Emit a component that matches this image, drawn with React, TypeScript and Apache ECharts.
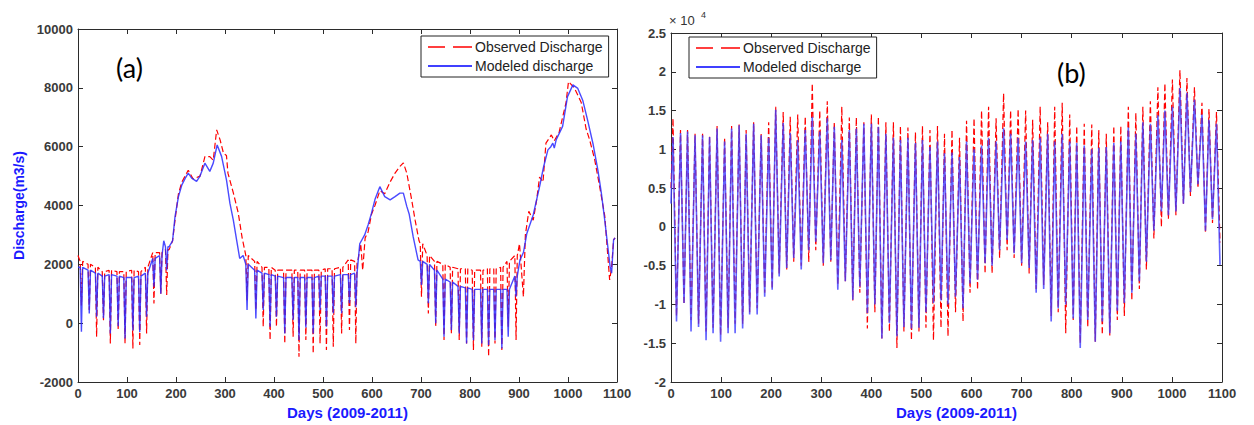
import React, { useEffect, useRef } from "react";
import * as echarts from "echarts";

// ---------- Panel (a) ----------
// low-flow cycles: day of each dip, plateau value before/after, dip value
const aDipDays = [7, 23, 38, 52, 66, 82, 96, 112, 126, 140, 155, 169, 181,
  345, 363, 378, 392, 405, 422, 439, 451, 465, 480, 494, 507, 521, 538, 554, 567,
  701, 715, 730, 747, 762, 778, 793, 807, 824, 838, 851, 865, 878, 894];
const aModTop = [1900, 1800, 1700, 1600, 1650, 1600, 1550, 1550, 1600, 1700, 2200, 2300, 2600,
  2000, 1800, 1700, 1650, 1600, 1550, 1550, 1550, 1550, 1550, 1600, 1600, 1600, 1650, 1650, 1700,
  2100, 2000, 1800, 1500, 1400, 1250, 1200, 1150, 1150, 1150, 1150, 1150, 1150, 1600];
const aModDip = [-290, 330, 220, 170, -350, -100, -520, -250, -300, 220, 1240, 1000, 1800,
  450, 160, 450, -120, 220, -350, 110, -570, -150, -350, 450, -120, 340, 340, 680, 560,
  1300, 680, 0, -460, -230, -350, -690, -580, -690, -740, -580, -860, -460, 900];
const aObsTop = [2100, 2000, 1900, 1750, 1800, 1750, 1750, 1800, 1750, 1900, 2400, 2400, 2500,
  2300, 2100, 1900, 1900, 1800, 1800, 1800, 1800, 1800, 1800, 1800, 1850, 1850, 1900, 2150, 2100,
  2700, 2300, 2100, 2000, 1900, 1850, 1850, 1800, 1800, 1850, 1850, 1900, 2100, 2300];
const aObsDip = [600, 450, -460, 100, -690, -230, -690, -860, -740, -350, 670, 1000, 960,
  780, 450, -120, -570, -120, -690, -460, -1140, -570, -1030, -690, -910, -800, -350, -230, -690,
  900, 330, -120, -570, -350, -570, -690, -910, -800, -1140, -690, -910, -120, -570];
// high-flow (smooth) parts: [day, discharge]
const aModFlood = [[0, 1900], [175, 2800], [186, 2600], [193, 2800], [198, 3620], [205, 4300], [212, 4700],
  [219, 4930], [225, 5100], [232, 4930], [242, 4820], [249, 5000], [259, 5440], [269, 5160], [276, 5440],
  [284, 6060], [293, 5670], [303, 4870], [310, 4080], [317, 3500], [324, 2800], [330, 2200], [337, 2300],
  [575, 2700], [585, 3000], [592, 3340], [599, 3740], [606, 4200], [616, 4640], [626, 4300], [637, 4190],
  [647, 4300], [657, 4420], [664, 4420], [671, 3970], [676, 3700], [684, 2940], [694, 2150],
  [902, 2150], [909, 2400], [916, 3050], [929, 3680], [942, 4640], [950, 5300], [959, 5890], [965, 6000],
  [969, 6120], [972, 5950], [976, 6240], [989, 6690], [999, 7700], [1010, 8100], [1020, 7980], [1030, 7580],
  [1040, 6900], [1051, 6100], [1061, 5200], [1068, 4430], [1075, 3500], [1082, 2490], [1086, 1920],
  [1089, 1700], [1093, 2830], [1096, 2900]];
const aObsFlood = [[0, 2300], [175, 2450], [186, 2500], [193, 2800], [198, 3500], [205, 4400], [212, 4800],
  [225, 5200], [235, 4900], [249, 5000], [259, 5660], [269, 5660], [276, 5540], [283, 6570], [290, 6230],
  [297, 5770], [303, 5700], [306, 5100], [317, 4430], [327, 3750], [335, 2900], [340, 2500],
  [572, 2200], [577, 2700], [581, 1800], [586, 2900], [592, 3100], [599, 3700], [606, 4000], [616, 4500],
  [626, 4400], [637, 4800], [647, 5100], [657, 5330], [664, 5450], [671, 5100], [681, 4190], [688, 3500],
  [696, 2800],
  [901, 2700], [909, 900], [913, 3000], [920, 3800], [929, 3500], [936, 4190], [942, 4970], [949, 4800],
  [955, 6120], [966, 6400], [972, 6200], [982, 6500], [996, 7500], [1001, 8210], [1013, 8000], [1027, 7500],
  [1037, 6600], [1044, 6240], [1054, 5600], [1064, 4700], [1075, 3650], [1085, 1470], [1089, 1900],
  [1093, 2830], [1096, 2900]];

// ---------- Panel (b) ----------
const bStartMod = 3000;
const bStartObs = 5000;
const bPeakDays = [4, 19, 33, 48, 63, 77, 92, 107, 121, 136, 150, 165, 180, 195, 209, 224, 238, 253, 268, 282,
  297, 312, 326, 341, 356, 370, 385, 400, 414, 429, 444, 458, 473, 488, 502, 517, 532, 546, 561, 576,
  590, 605, 620, 634, 649, 664, 678, 693, 708, 722, 737, 752, 766, 781, 796, 810, 825, 840, 854, 869,
  884, 898, 913, 928, 942, 957, 972, 986, 1001, 1016, 1030, 1045, 1060, 1074, 1089];
const bTroughDays = [11, 26, 40, 55, 70, 84, 99, 114, 128, 143, 157, 172, 187, 202, 216, 231, 245, 260, 275, 289,
  304, 319, 333, 348, 363, 377, 392, 407, 421, 436, 451, 465, 480, 495, 509, 524, 539, 553, 568, 583,
  597, 612, 627, 641, 656, 671, 685, 700, 715, 729, 744, 759, 773, 788, 803, 817, 832, 847, 861, 876,
  891, 905, 920, 935, 949, 964, 979, 993, 1008, 1023, 1037, 1052, 1067, 1081, 1096];
const bModPeak = [11600, 12100, 12300, 11800, 11800, 11600, 12700, 11000, 12700, 13100,
  12000, 13300, 11800, 11500, 15100, 13400, 12100, 11200, 12500, 14200,
  12300, 14000, 12900, 11200, 12500, 12700, 13300, 13300, 12900, 12000,
  11500, 11200, 11500, 10800, 11200, 10300, 11000, 9500, 9600, 9000,
  11000, 10000, 10500, 11500, 11000, 12700, 12000, 11500, 11000, 11200,
  11500, 12000, 11000, 12000, 11000, 10800, 10500, 10000, 10200, 10300,
  10800, 11000, 12800, 12000, 13500, 13300, 14400, 15000, 15500, 17900,
  17300, 16400, 14500, 13800, 13300];
const bModTrough = [-12200, -9800, -13500, -12900, -14600, -13700, -14800, -13700, -13700, -13100,
  -11300, -11300, -9000, -8100, -6400, -5300, -4000, -5500, -3000, -1900,
  -4700, -4300, -8100, -7000, -9400, -7700, -11100, -10000, -14400, -12400,
  -14100, -12900, -13100, -13000, -11000, -9800, -9500, -10000, -9000, -10500,
  -7300, -6800, -4700, -5000, -3000, -1700, -3400, -4700, -5300, -8500,
  -8000, -12200, -10500, -10000, -11800, -15600, -12000, -14800, -12200, -13700,
  -10800, -9800, -8500, -7000, -4500, -500, 2000, 1500, 2000, 3000,
  4500, 5500, -500, 1000, -4900];
const bObsPeak = [14000, 12500, 12500, 12000, 12000, 11700, 13000, 11500, 13000, 13200,
  12500, 13500, 12000, 13500, 15500, 14800, 14200, 14500, 14200, 18500,
  15000, 16200, 13500, 15500, 14100, 14100, 13500, 14500, 14200, 13500,
  13500, 13000, 12800, 12200, 13000, 12500, 13000, 12000, 12500, 11500,
  13700, 14000, 15000, 15500, 14000, 17200, 15000, 15200, 15000, 13800,
  15500, 13500, 15500, 16000, 14500, 13000, 13300, 13200, 12500, 12000,
  13000, 13000, 15500, 14700, 15500, 16200, 18000, 18500, 19000, 20200,
  19200, 18000, 16000, 15200, 14800];
const bObsTrough = [-11500, -10000, -12000, -12500, -13500, -13000, -14000, -13000, -12500, -12500,
  -11000, -10500, -8500, -8000, -6000, -5500, -4500, -5000, -4500, -3000,
  -5000, -4500, -7500, -7000, -9500, -8500, -13100, -11000, -14400, -13500,
  -15600, -13500, -14600, -13500, -13000, -14600, -13000, -14100, -11000, -12200,
  -8500, -8100, -6000, -6000, -4000, -3000, -4000, -5000, -6000, -8000,
  -7500, -11500, -11000, -13700, -12000, -15000, -12900, -14800, -13900, -14000,
  -12000, -11500, -9500, -8000, -5500, -1500, 0, 1000, 1500, 3000,
  4000, 5000, -800, 500, -2000];

const OBS = "Observed Discharge";
const MOD = "Modeled discharge";

function buildA(dips: number[], tops: number[], lows: number[], flood: number[][]) {
  const pts: number[][] = [];
  dips.forEach((d, i) => {
    pts.push([d - 2.5, tops[i]], [d, lows[i]], [d + 2.5, tops[i]]);
  });
  flood.forEach((p) => pts.push(p));
  pts.sort((a, b) => a[0] - b[0]);
  return pts;
}

function buildB(start: number, peakDays: number[], peaks: number[], troughDays: number[], troughs: number[]) {
  const pts: number[][] = [[0, start]];
  peakDays.forEach((d, i) => {
    pts.push([d, peaks[i]], [troughDays[i], troughs[i]]);
  });
  return pts;
}

const FONT = "'Liberation Sans', Arial, sans-serif";
const AXC = "#2b2b2b";
const LBL = "#3a3a3a";
const NAMEC = "#1a1aff";

function xAx(grid: number, pos: "bottom" | "top", nameShift = 0) {
  return {
    type: "value", gridIndex: grid, position: pos, min: 0, max: 1100, interval: 100,
    axisLine: { onZero: false, lineStyle: { color: AXC, width: 1 } },
    axisTick: { inside: true, length: 5, lineStyle: { color: AXC } },
    axisLabel: { show: pos === "bottom", margin: 5, color: LBL, fontSize: 13, fontWeight: "bold", fontFamily: FONT,
      formatter: (v: number) => String(v) },
    splitLine: { show: false },
    name: pos === "bottom" ? "Days (2009-2011)" : "",
    nameLocation: "middle", nameGap: 20,
    nameTextStyle: { color: NAMEC, fontSize: 15, fontWeight: "bold", fontFamily: FONT, padding: [0, 0, 0, nameShift] },
  };
}

function yAx(grid: number, pos: "left" | "right", min: number, max: number, interval: number, fmt: (v: number) => string, name = "") {
  return {
    type: "value", gridIndex: grid, position: pos, min, max, interval,
    axisLine: { onZero: false, lineStyle: { color: AXC, width: 1 } },
    axisTick: { inside: true, length: 5, lineStyle: { color: AXC } },
    axisLabel: { show: pos === "left", margin: 5, color: LBL, fontSize: 13, fontWeight: "bold", fontFamily: FONT, formatter: fmt },
    splitLine: { show: false },
    name, nameLocation: "middle", nameGap: 52,
    nameTextStyle: { color: NAMEC, fontSize: 14, fontWeight: "bold", fontFamily: FONT },
  };
}

const OBS_ICON = "path://M0,0h17v1.3h-17z M25,0h19v1.3h-19z";
const MOD_ICON = "path://M0,0h44v1.3h-44z";

function legendAt(left: number, top: number) {
  return {
    left, top, orient: "vertical", itemGap: 5, itemWidth: 44, itemHeight: 14,
    padding: [4, 6, 4, 7], borderColor: "#222", borderWidth: 1, backgroundColor: "#fff",
    textStyle: { fontSize: 14, color: "#222", fontFamily: FONT, padding: [0, 0, 0, -2] },
    data: [{ name: OBS, icon: OBS_ICON }, { name: MOD, icon: MOD_ICON }],
  };
}

export default function App() {
  const ref = useRef<HTMLDivElement>(null);
  useEffect(() => {
    if (!ref.current) return;
    const chart = echarts.init(ref.current, undefined, { renderer: "svg" });
    const fa = (v: number) => String(v);
    const fb = (v: number) => String(v / 10000);
    const obsLine = { color: "#ff0000", width: 1.2, type: [6, 3] as any };
    const modLineA = { color: "#2a2aff", width: 1.4, opacity: 0.85 };
    const modLineB = { color: "#3c3cff", width: 1.6, opacity: 0.8 };
    chart.setOption({
      animation: false,
      backgroundColor: "#ffffff",
      grid: [
        { left: 78, top: 29, width: 539, height: 353 },
        { left: 671, top: 33, width: 551, height: 349 },
      ],
      xAxis: [xAx(0, "bottom"), xAx(0, "top"), xAx(1, "bottom", 20), xAx(1, "top")],
      yAxis: [
        yAx(0, "left", -2000, 10000, 2000, fa, "Discharge(m3/s)"),
        yAx(0, "right", -2000, 10000, 2000, fa),
        yAx(1, "left", -20000, 25000, 5000, fb),
        yAx(1, "right", -20000, 25000, 5000, fb),
      ],
      legend: [legendAt(421, 36), legendAt(689, 37)],
      series: [
        { name: OBS, type: "line", xAxisIndex: 0, yAxisIndex: 0, symbol: "none", showSymbol: false, lineStyle: obsLine, itemStyle: { color: "#ff0000" },
          data: buildA(aDipDays, aObsTop, aObsDip, aObsFlood) },
        { name: MOD, type: "line", xAxisIndex: 0, yAxisIndex: 0, symbol: "none", showSymbol: false, lineStyle: modLineA, itemStyle: { color: "#0000ff" },
          data: buildA(aDipDays, aModTop, aModDip, aModFlood) },
        { name: OBS, type: "line", xAxisIndex: 2, yAxisIndex: 2, symbol: "none", showSymbol: false, lineStyle: obsLine, itemStyle: { color: "#ff0000" },
          data: buildB(bStartObs, bPeakDays, bObsPeak, bTroughDays, bObsTrough) },
        { name: MOD, type: "line", xAxisIndex: 2, yAxisIndex: 2, symbol: "none", showSymbol: false, lineStyle: modLineB, itemStyle: { color: "#0000ff" },
          data: buildB(bStartMod, bPeakDays, bModPeak, bTroughDays, bModTrough) },
      ],
      graphic: [
        { type: "text", left: 116, top: 54, style: { text: "(a)", font: "27px Lato, 'Open Sans', sans-serif", fill: "#000" } },
        { type: "text", left: 1057, top: 59, style: { text: "(b)", font: "27px Lato, 'Open Sans', sans-serif", fill: "#000" } },
        { type: "text", left: 669, top: 14, style: { text: "× 10", font: "13px " + FONT, fill: "#333" } },
        { type: "text", left: 701, top: 10, style: { text: "4", font: "9px " + FONT, fill: "#333" } },
      ],
    });
    return () => chart.dispose();
  }, []);
  return (
    <div
      ref={ref}
      style={{ position: "fixed", left: 0, top: 0, width: 1254, height: 425, background: "#fff" }}
    />
  );
}
